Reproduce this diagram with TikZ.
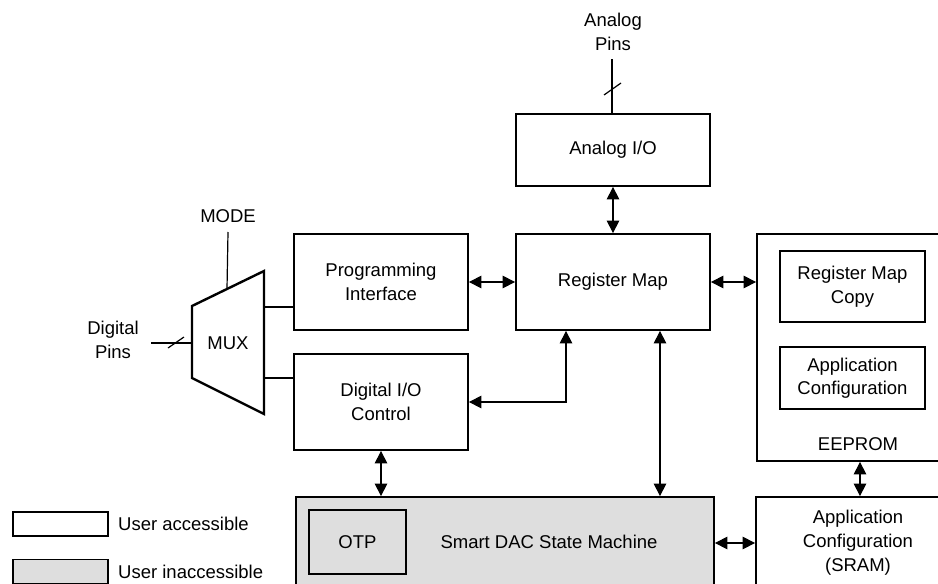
\documentclass[tikz,border=0pt]{standalone}
\usepackage{fontspec}
\setmainfont{Liberation Sans}
\usetikzlibrary{arrows.meta,calc}
\definecolor{smgray}{RGB}{222,222,222}
\tikzset{
  blk/.style={draw, line width=1.8pt, inner sep=0pt, align=center, font=\fontsize{18.5}{23.5}\selectfont},
  txt/.style={inner sep=0pt, align=center, font=\fontsize{18.5}{23.5}\selectfont},
  arr/.style={{Triangle[length=12.5pt,width=12.5pt]}-{Triangle[length=12.5pt,width=12.5pt]}, line width=1.2pt},
  wire/.style={line width=1.2pt},
}
\begin{document}
\begin{tikzpicture}[x=1pt,y=-1pt]
\clip (0,0) rectangle (938,584);
\fill[white] (0,0) rectangle (938,584);
% blocks
\node[blk, minimum width=194pt, minimum height=72pt] (analog) at (613,150) {Analog I/O};
\node[blk, minimum width=194pt, minimum height=96pt] (regmap) at (613,282) {Register Map};
\node[blk, minimum width=174pt, minimum height=96pt] (prog) at (381,282) {Programming\\Interface};
\node[blk, minimum width=174pt, minimum height=96pt] (dio) at (381,402) {Digital I/O\\Control};
\node[blk, minimum width=203pt, minimum height=227pt] (eeprom) at (858.5,347.5) {};
\node[txt] (eepromlbl) at (858,444) {EEPROM};
\node[blk, minimum width=145pt, minimum height=71pt] (rmcopy) at (852.5,286.5) {Register Map\\Copy};
\node[blk, minimum width=145pt, minimum height=62pt] (appcfg) at (852.5,378) {Application\\Configuration};
\node[blk, minimum width=204pt, minimum height=92pt, font=\fontsize{18.5}{24}\selectfont] (sram) at (858,543) {Application\\Configuration\\(SRAM)};
\node[blk, fill=smgray, minimum width=418pt, minimum height=92pt] (sm) at (505,543) {};
\node[txt] (smlbl) at (549,542) {Smart DAC State Machine};
\node[blk, minimum width=97pt, minimum height=64pt] (otp) at (357.5,542) {OTP};
% MUX
\coordinate (m1) at (192,306);
\coordinate (m2) at (264,271);
\coordinate (m3) at (264,414);
\coordinate (m4) at (192,378);
\draw[line width=2.4pt, line join=miter] (m1) -- (m2) -- (m3) -- (m4) -- cycle;
\node[txt] (mux) at (228,343) {MUX};
\coordinate (mtop) at (227,289);
\coordinate (mo1) at (264,307);
\coordinate (mo2) at (264,378);
\coordinate (min) at (192,343);
\node[txt] (mode) at (228,216) {MODE};
\draw[wire] (mode.south |- 0,232) -- (mtop);
\draw[wire] (mo1) -- (mo1 -| prog.west);
\draw[wire] (mo2) -- (mo2 -| dio.west);
% digital pins
\node[txt] (dpins) at (113,340) {Digital\\Pins};
\coordinate (dpin) at (151,343);
\draw[wire] (dpin) -- (min);
\draw[wire] (168,348) -- (184,337);
% analog pins
\node[txt] (apins) at (613,32) {Analog\\Pins};
\coordinate (apin) at (612,59);
\draw[wire] (apin) -- (apin |- analog.north);
\draw[wire] (604,95) -- (621,83);
% connectors
\draw[arr] (analog.south) -- (regmap.north);
\draw[arr] (prog.east) -- (regmap.west);
\draw[arr] (regmap.east) -- (regmap.east -| eeprom.west);
\draw[arr] ([xshift=-47pt]regmap.south) |- (dio.east |- 0,402);
\draw[arr] ([xshift=47pt]regmap.south) -- ([xshift=47pt]regmap.south |- sm.north);
\draw[arr] (dio.south) -- (dio.south |- sm.north);
\draw[arr] ([xshift=1.5pt]eeprom.south) -- ([xshift=1.5pt]eeprom.south |- sram.north);
\draw[arr] (sm.east) -- (sm.east -| sram.west);
% legend
\node[blk, minimum width=95pt, minimum height=24pt] (leg1) at (60.5,524) {};
\node[blk, fill=smgray, minimum width=95pt, minimum height=24pt] (leg2) at (60.5,571.5) {};
\node[txt, anchor=west] (leg1t) at (118,524) {User accessible};
\node[txt, anchor=west] (leg2t) at (118,572) {User inaccessible};
\end{tikzpicture}
\end{document}
